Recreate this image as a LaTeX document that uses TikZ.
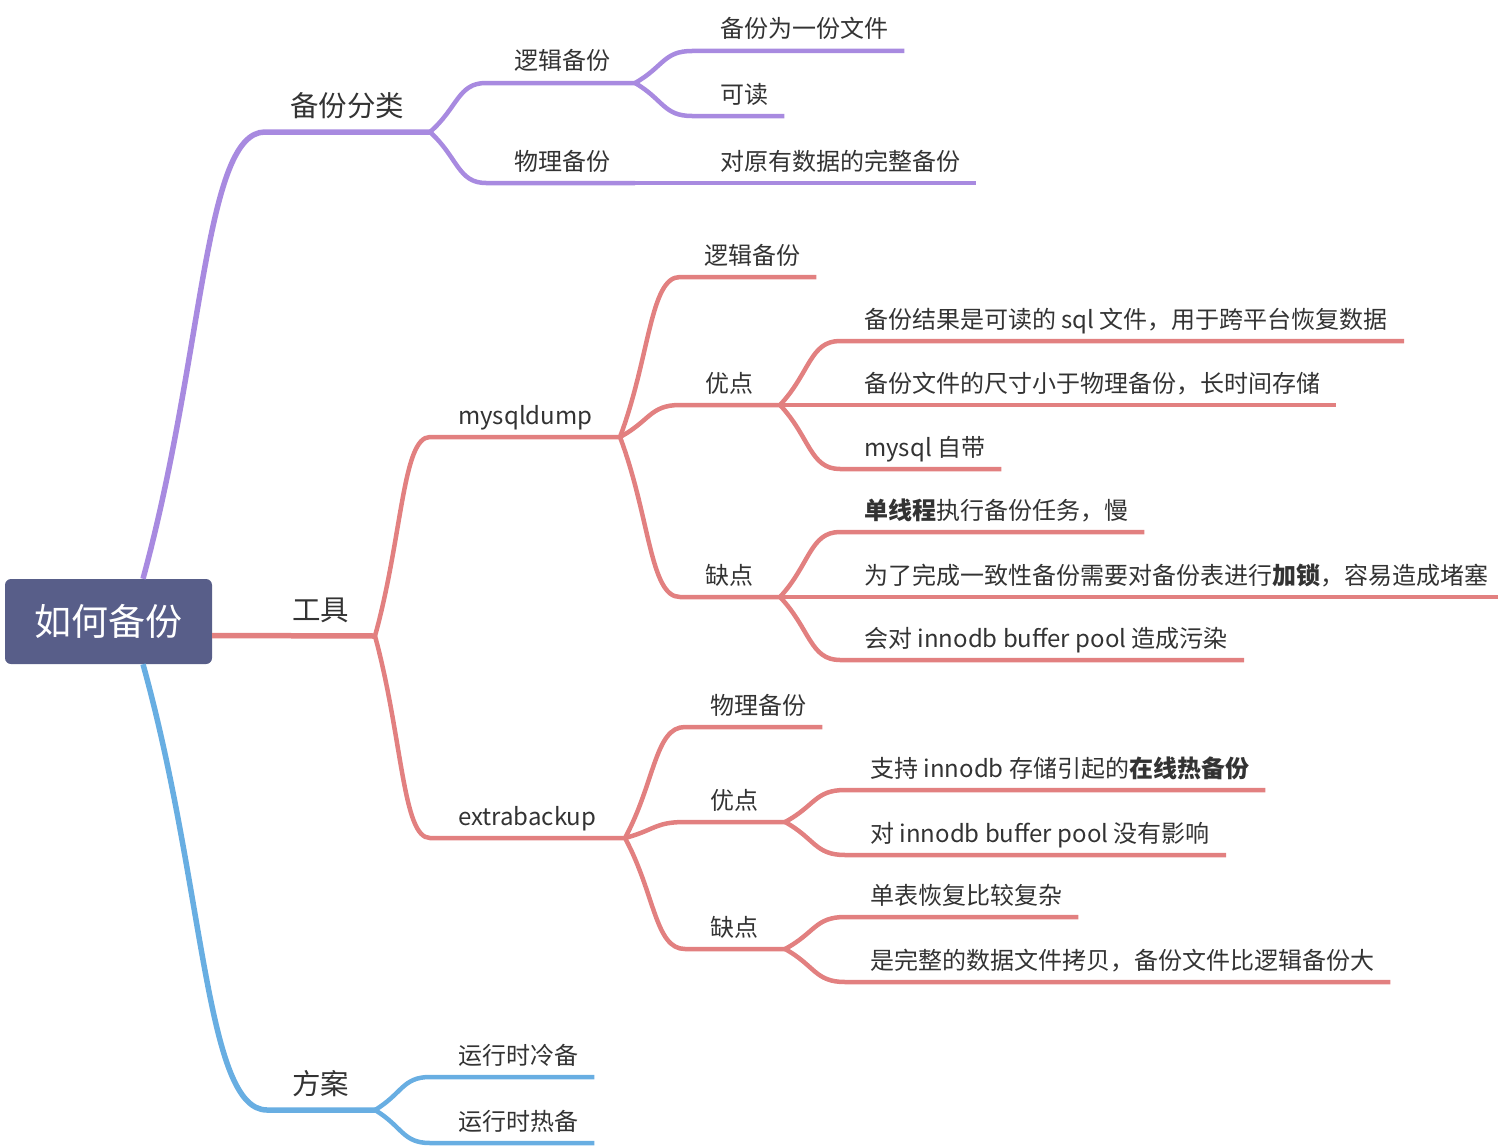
\documentclass[tikz,border=0pt]{standalone}
\usepackage{fontspec}
\setmainfont{Noto Sans CJK SC}
\usepackage{xcolor}
\definecolor{rootfill}{RGB}{88, 94, 137}
\definecolor{catpurple}{RGB}{168, 138, 224}
\definecolor{toolred}{RGB}{226, 128, 128}
\definecolor{planblue}{RGB}{104, 174, 226}
\definecolor{ink}{RGB}{51, 51, 51}
\usepackage{tikz}
\usetikzlibrary{calc}

% branch: style, fork, start of own line, end of own line
\newcommand{\twig}[4]{%
  \draw[#1] let \p1=#2, \p2=#3, \p3=#4 in
    (\p1) .. controls (0.5*\x1+0.5*\x2, 0.5*\y1+0.5*\y2)
              and (0.5*\x1+0.5*\x2, \y2) .. (\p2) -- (\x3,\y2);}

\begin{document}
\begin{tikzpicture}[
  x=1pt, y=-1pt,
  every node/.style = {inner sep=0pt, text=ink},
  % node styles
  root/.style  = {rectangle, rounded corners=6pt, fill=rootfill, text=white,
                  minimum width=207pt, minimum height=85pt,
                  font=\fontsize{37}{44}\selectfont},
  main/.style  = {anchor=base west, font=\fontsize{28.5}{34}\selectfont},
  sub/.style   = {anchor=base west, font=\fontsize{24}{29}\selectfont},
  % line styles
  pmain/.style = {draw=catpurple, line width=5.5pt},
  psub/.style  = {draw=catpurple, line width=4.5pt},
  rmain/.style = {draw=toolred, line width=5.5pt},
  rsub/.style  = {draw=toolred, line width=4.5pt},
  bmain/.style = {draw=planblue, line width=5.5pt},
  bsub/.style  = {draw=planblue, line width=4.5pt},
]
\useasboundingbox (0,0) rectangle (1504,1148);

%% Root
\node[root] (root) at (108.5,621.5) {如何备份};
\coordinate (r-top) at ($(root.north)+(34.5,0)$);
\coordinate (r-bot) at ($(root.south)+(34.5,0)$);
\coordinate (r-east) at ($(root.east)+(0,14)$);

%% Branch 1: 备份分类
\node[main] (cat) at (290,116) {备份分类};
\coordinate (f-cat) at (430,132);
\twig{pmain}{(r-top)}{($(cat.base west)+(-25,16)$)}{(f-cat)}

\node[sub] (logic) at (514,70)  {逻辑备份};
\node[sub] (phys)  at (514,170) {物理备份};
\coordinate (f-logic) at (635,83);
\coordinate (f-phys)  at (635,183);
\twig{psub}{(f-cat)}{($(logic.base west)+(-28,13)$)}{(f-logic)}
\twig{psub}{(f-cat)}{($(phys.base west)+(-28,13)$)}{(f-phys)}

\node[sub] (file)  at (720,38)  {备份为一份文件};
\node[sub] (read)  at (720,103) {可读};
\node[sub] (whole) at (720,170) {对原有数据的完整备份};
\twig{psub}{(f-logic)}{($(file.base west)+(-28,13)$)}{($(file.base east)+(16,13)$)}
\twig{psub}{(f-logic)}{($(read.base west)+(-28,13)$)}{($(read.base east)+(16,13)$)}
\twig{psub}{(f-phys)}{($(whole.base west)+(-28,13)$)}{($(whole.base east)+(16,13)$)}

%% Branch 2: 工具
\node[main] (tool) at (292,620) {工具};
\coordinate (f-tool) at (375,636);
\draw[rmain] (r-east) -- (f-tool);

\node[sub] (dump) at (458,424) {mysqldump};
\node[sub] (xtra) at (458,825) {extrabackup};
\coordinate (f-dump) at (620,437);
\coordinate (f-xtra) at (625,838);
\twig{rsub}{(f-tool)}{($(dump.base west)+(-28,13)$)}{(f-dump)}
\twig{rsub}{(f-tool)}{($(xtra.base west)+(-28,13)$)}{(f-xtra)}

% mysqldump
\node[sub] (dlogic) at (704,264) {逻辑备份};
\node[sub] (dpro)   at (705,392) {优点};
\node[sub] (dcon)   at (705,584) {缺点};
\coordinate (f-dpro) at (780,405);
\coordinate (f-dcon) at (780,597);
\twig{rsub}{(f-dump)}{($(dlogic.base west)+(-24,13)$)}{($(dlogic.base east)+(16,13)$)}
\twig{rsub}{(f-dump)}{($(dpro.base west)+(-25,13)$)}{(f-dpro)}
\twig{rsub}{(f-dump)}{($(dcon.base west)+(-25,13)$)}{(f-dcon)}

\node[sub] (dp1) at (864,328) {备份结果是可读的 sql 文件，用于跨平台恢复数据};
\node[sub] (dp2) at (864,392) {备份文件的尺寸小于物理备份，长时间存储};
\node[sub] (dp3) at (864,456) {mysql 自带};
\twig{rsub}{(f-dpro)}{($(dp1.base west)+(-24,13)$)}{($(dp1.base east)+(16,13)$)}
\twig{rsub}{(f-dpro)}{($(dp2.base west)+(-24,13)$)}{($(dp2.base east)+(16,13)$)}
\twig{rsub}{(f-dpro)}{($(dp3.base west)+(-24,13)$)}{($(dp3.base east)+(16,13)$)}

\node[sub] (dc1) at (864,519) {\textbf{单线程}执行备份任务，慢};
\node[sub] (dc2) at (864,584) {为了完成一致性备份需要对备份表进行\textbf{加锁}，容易造成堵塞};
\node[sub] (dc3) at (864,647) {会对 innodb buffer pool 造成污染};
\twig{rsub}{(f-dcon)}{($(dc1.base west)+(-24,13)$)}{($(dc1.base east)+(16,13)$)}
\twig{rsub}{(f-dcon)}{($(dc2.base west)+(-24,13)$)}{($(dc2.base east)+(10,13)$)}
\twig{rsub}{(f-dcon)}{($(dc3.base west)+(-24,13)$)}{($(dc3.base east)+(16,13)$)}

% extrabackup
\node[sub] (xphys) at (710,714) {物理备份};
\node[sub] (xpro)  at (710,809) {优点};
\node[sub] (xcon)  at (710,936) {缺点};
\coordinate (f-xpro) at (785,822);
\coordinate (f-xcon) at (785,949);
\twig{rsub}{(f-xtra)}{($(xphys.base west)+(-25,13)$)}{($(xphys.base east)+(16,13)$)}
\twig{rsub}{(f-xtra)}{($(xpro.base west)+(-25,13)$)}{(f-xpro)}
\twig{rsub}{(f-xtra)}{($(xcon.base west)+(-25,13)$)}{(f-xcon)}

\node[sub] (xp1) at (870,777) {支持 innodb 存储引起的\textbf{在线热备份}};
\node[sub] (xp2) at (870,842) {对 innodb buffer pool 没有影响};
\twig{rsub}{(f-xpro)}{($(xp1.base west)+(-25,13)$)}{($(xp1.base east)+(16,13)$)}
\twig{rsub}{(f-xpro)}{($(xp2.base west)+(-25,13)$)}{($(xp2.base east)+(16,13)$)}

\node[sub] (xc1) at (870,904) {单表恢复比较复杂};
\node[sub] (xc2) at (870,969) {是完整的数据文件拷贝，备份文件比逻辑备份大};
\twig{rsub}{(f-xcon)}{($(xc1.base west)+(-25,13)$)}{($(xc1.base east)+(16,13)$)}
\twig{rsub}{(f-xcon)}{($(xc2.base west)+(-25,13)$)}{($(xc2.base east)+(16,13)$)}

%% Branch 3: 方案
\node[main] (plan) at (292,1094) {方案};
\coordinate (f-plan) at (375,1110);
\twig{bmain}{(r-bot)}{($(plan.base west)+(-25,16)$)}{(f-plan)}

\node[sub] (cold) at (458,1064) {运行时冷备};
\node[sub] (hot)  at (458,1130) {运行时热备};
\twig{bsub}{(f-plan)}{($(cold.base west)+(-28,13)$)}{($(cold.base east)+(16,13)$)}
\twig{bsub}{(f-plan)}{($(hot.base west)+(-28,13)$)}{($(hot.base east)+(16,13)$)}

\end{tikzpicture}
\end{document}
